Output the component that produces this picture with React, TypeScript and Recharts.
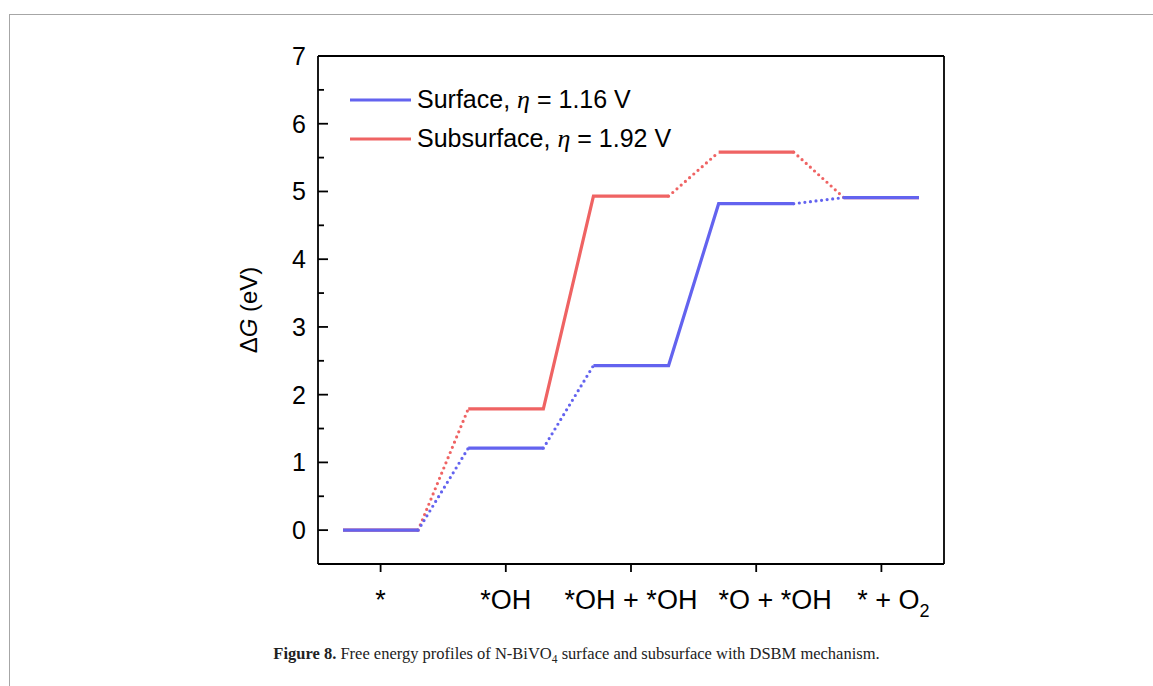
import { Legend, Line, LineChart, XAxis, YAxis } from 'recharts'

// reaction intermediates (x positions 1..5)
const categories = ['*', '*OH', '*OH + *OH', '*O + *OH', '* + O2']
const xTicks = [1, 2, 3, 4, 5]

// free energies (eV)
const surfaceEnergies = [0, 1.21, 2.43, 4.82, 4.91]
const subsurfaceEnergies = [0, 1.79, 4.93, 5.58, 4.91]

// potential-determining step (drawn solid), index of the step
const surfacePds = 2
const subsurfacePds = 1

const yTicks = [0, 0.5, 1, 1.5, 2, 2.5, 3, 3.5, 4, 4.5, 5, 5.5, 6, 6.5, 7]

const SANS = '"Liberation Sans", Arial, sans-serif'
const SERIF = '"Liberation Serif", "Times New Roman", serif'
const HALF = 0.3 // half width of an energy level, in category units
// the original figure nudges a couple of category labels to the right
const labelNudge = [0, 0, 0, 19, 12]

const series = [
  { key: 'sub', name: 'Subsurface', eta: '1.92 V', values: subsurfaceEnergies, pds: subsurfacePds, color: '#ef6363' },
  { key: 'surf', name: 'Surface', eta: '1.16 V', values: surfaceEnergies, pds: surfacePds, color: '#6363ef' },
]
const legendOrder = [series[1], series[0]]

type Pt = { x: number; y: number }

// split a profile into solid polylines and dotted connectors
function buildRuns(values: number[], pds: number) {
  const runs: { dotted: boolean; pts: Pt[] }[] = []
  let cur: Pt[] = [
    { x: 1 - HALF, y: values[0] },
    { x: 1 + HALF, y: values[0] },
  ]
  for (let k = 0; k < values.length - 1; k++) {
    const a = { x: k + 1 + HALF, y: values[k] }
    const b = { x: k + 2 - HALF, y: values[k + 1] }
    const e = { x: k + 2 + HALF, y: values[k + 1] }
    if (k === pds) {
      cur.push(b, e)
    } else {
      runs.push({ dotted: false, pts: cur })
      runs.push({ dotted: true, pts: [a, b] })
      cur = [b, e]
    }
  }
  runs.push({ dotted: false, pts: cur })
  return runs
}

function YTick(props: any) {
  const { x, y, payload } = props
  const major = Number.isInteger(payload.value)
  return (
    <g>
      <line x1={x} y1={y} x2={x + (major ? 10 : 6)} y2={y} stroke="#000" strokeWidth={1.8} />
      {major && (
        <text x={x - 12} y={y} dy="0.36em" textAnchor="end" fontSize={25} fontFamily={SANS} fill="#000">
          {payload.value}
        </text>
      )}
    </g>
  )
}

function XTick(props: any) {
  const { x, y, payload } = props
  const idx = payload.value - 1
  const label = categories[idx] || ''
  const sub = label.endsWith('O2')
  return (
    <text x={x + (labelNudge[idx] || 0)} y={y} dy="0.85em" textAnchor="middle" fontSize={27} fontFamily={SANS} fill="#000">
      {sub ? (
        <>
          {label.slice(0, -1)}
          <tspan dy={8} fontSize={18}>2</tspan>
        </>
      ) : (
        label
      )}
    </text>
  )
}

function YLabel(props: any) {
  const vb = props.viewBox || { x: 258, y: 56, width: 60, height: 508 }
  const cx = vb.x + vb.width - 61
  const cy = vb.y + vb.height / 2
  return (
    <text x={cx} y={cy} transform={`rotate(-90, ${cx}, ${cy})`} textAnchor="middle" fontSize={24} fontFamily={SANS} fill="#000">
      Δ<tspan fontStyle="italic">G</tspan> (eV)
    </text>
  )
}

const renderLegend = () => (
  <div style={{ fontFamily: SANS, fontSize: 25, color: '#000' }}>
    {legendOrder.map((s) => (
      <div key={s.key} style={{ display: 'flex', alignItems: 'center', height: 39, whiteSpace: 'nowrap' }}>
        <svg width={62} height={6}>
          <line x1={0} y1={3} x2={61} y2={3} stroke={s.color} strokeWidth={3.2} />
        </svg>
        <span style={{ marginLeft: 5 }}>
          {s.name}, <span style={{ fontFamily: SERIF, fontStyle: 'italic', fontSize: 26 }}>η</span> = {s.eta}
        </span>
      </div>
    ))}
  </div>
)

export default function App() {
  return (
    <div style={{ position: 'absolute', left: 0, top: 0, width: 1153, height: 686, background: '#fff', overflow: 'hidden' }}>
      <div
        style={{
          position: 'absolute',
          left: 9,
          top: 14,
          right: -2,
          bottom: -2,
          borderTop: '1.5px solid #a6a6a6',
          borderLeft: '1.5px solid #a6a6a6',
        }}
      />
      <div style={{ position: 'absolute', left: 0, top: 0 }}>
        <LineChart width={1153} height={686} margin={{ top: 56, right: 209, bottom: 82, left: 258 }}>
          <XAxis
            type="number"
            dataKey="x"
            domain={[0.5, 5.5]}
            ticks={xTicks}
            interval={0}
            allowDataOverflow
            height={40}
            tickSize={8}
            tickMargin={14}
            tick={<XTick />}
            axisLine={{ stroke: '#000', strokeWidth: 1.8 }}
            tickLine={{ stroke: '#000', strokeWidth: 1.8 }}
          />
          <XAxis
            xAxisId="top"
            orientation="top"
            mirror
            type="number"
            domain={[0.5, 5.5]}
            allowDataOverflow
            tick={false}
            tickLine={false}
            axisLine={{ stroke: '#000', strokeWidth: 1.8 }}
          />
          <YAxis
            type="number"
            domain={[-0.5, 7]}
            ticks={yTicks}
            interval={0}
            allowDataOverflow
            width={60}
            tickSize={0}
            tickMargin={0}
            tickLine={false}
            tick={<YTick />}
            axisLine={{ stroke: '#000', strokeWidth: 1.8 }}
            label={{ content: (p: any) => <YLabel {...p} /> }}
          />
          <YAxis
            yAxisId="right"
            orientation="right"
            mirror
            type="number"
            domain={[-0.5, 7]}
            allowDataOverflow
            tick={false}
            tickLine={false}
            axisLine={{ stroke: '#000', strokeWidth: 1.8 }}
          />
          <Legend
            content={renderLegend}
            layout="vertical"
            align="center"
            verticalAlign="middle"
            wrapperStyle={{ left: 350, top: 80, width: 400, height: 78 }}
          />
          {series.map((s) =>
            buildRuns(s.values, s.pds).map((r, i) => (
              <Line
                key={`${s.key}-${i}`}
                data={r.pts}
                dataKey="y"
                name={s.name}
                stroke={s.color}
                strokeWidth={3.2}
                strokeDasharray={r.dotted ? '0 5.6' : undefined}
                strokeLinecap={r.dotted ? 'round' : 'butt'}
                dot={false}
                activeDot={false}
                legendType="none"
                isAnimationActive={false}
              />
            ))
          )}
        </LineChart>
      </div>
      <div
        style={{
          position: 'absolute',
          left: 0,
          top: 644,
          width: 1153,
          textAlign: 'center',
          fontFamily: SERIF,
          fontSize: 16.5,
          color: '#222',
          whiteSpace: 'nowrap',
        }}
      >
        <b>Figure 8.</b> Free energy profiles of N-BiVO<sub style={{ fontSize: 11.5 }}>4</sub> surface and subsurface with DSBM mechanism.
      </div>
    </div>
  )
}
